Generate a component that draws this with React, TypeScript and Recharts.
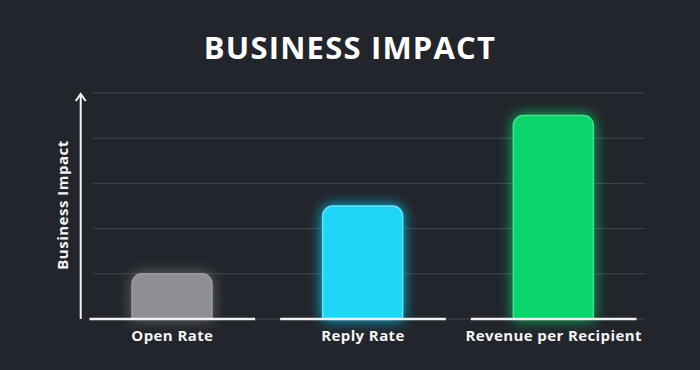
import React from 'react'
import { BarChart, Bar, XAxis, YAxis, CartesianGrid, Cell, Rectangle } from 'recharts'

const CATEGORIES = ['Open Rate', 'Reply Rate', 'Revenue per Recipient']
const IMPACT = [1.0, 2.5, 4.5]
const Y_TICKS = [1, 2, 3, 4, 5]

const FILLS = ['#8e8f93', '#1fd5f8', '#0ad56a']
const EDGES = ['#9c9da1', '#63e3ff', '#3ce38a']
const GLOWS = ['rgba(170,172,178,0.5)', 'rgba(0,210,255,0.9)', 'rgba(0,230,110,0.8)']

const BG = '#22252b'
const FONT = '"Open Sans", "DejaVu Sans", sans-serif'

const data = CATEGORIES.map((name, i) => ({ name, value: IMPACT[i] }))

function GlowBar(props: any) {
  const i = props.index ?? 0
  return (
    <g style={{ filter: `drop-shadow(0 0 7px ${GLOWS[i]})` }}>
      <Rectangle {...props} fill={FILLS[i]} stroke={EDGES[i]} strokeWidth={1.5} radius={[10, 10, 0, 0]} />
    </g>
  )
}

function BaseTick(props: any) {
  const { x, y, payload } = props
  const half = payload?.offset ? payload.offset - 12.5 : 83
  return (
    <g>
      <line x1={x - half} x2={x + half} y1={y} y2={y} stroke="#f2f2f2" strokeWidth={2.5} />
      <text x={x} y={y + 22} textAnchor="middle" fill="#f4f4f4"
        style={{ fontFamily: FONT, fontSize: 15, fontWeight: 700, letterSpacing: 0.4 }}>
        {payload.value}
      </text>
    </g>
  )
}

function NoTick() {
  return <g />
}

function AxisArrow(props: any) {
  const vb = props.viewBox || { x: 0, y: 93, width: 93, height: 226 }
  const ax = vb.x + vb.width - 12.3
  const top = vb.y + 1
  const bottom = vb.y + vb.height
  const cy = vb.y + vb.height / 2 - 1
  const lx = ax - 18.5
  return (
    <g>
      <line x1={ax} x2={ax} y1={bottom} y2={top} stroke="#f2f2f2" strokeWidth={2} />
      <polyline points={`${ax - 5},${top + 7} ${ax},${top} ${ax + 5},${top + 7}`}
        fill="none" stroke="#f2f2f2" strokeWidth={2} />
      <text x={lx} y={cy} textAnchor="middle" fill="#f4f4f4"
        transform={`rotate(-90 ${lx} ${cy})`} dominantBaseline="central"
        style={{ fontFamily: FONT, fontSize: 15, fontWeight: 700, letterSpacing: 0.5 }}>
        Business Impact
      </text>
    </g>
  )
}

export default function App() {
  return (
    <div style={{ position: 'absolute', left: 0, top: 0, width: 700, height: 370, background: BG }}>
      <div style={{
        position: 'absolute', top: 26, left: 0, width: 700, textAlign: 'center',
        fontFamily: FONT, fontWeight: 700, fontSize: 31, letterSpacing: 1.2, color: '#ffffff',
      }}>
        BUSINESS IMPACT
      </div>
      <BarChart width={700} height={370} data={data} barSize={80}
        margin={{ top: 93, right: 55, bottom: 0, left: 0 }}>
        <CartesianGrid vertical={false} stroke="#43464d" strokeWidth={1} />
        <XAxis dataKey="name" height={51} axisLine={false} tickLine={false} tickSize={0} tickMargin={0}
          padding={{ left: -16, right: -4 }} tick={<BaseTick />} interval={0} />
        <YAxis width={93} domain={[0, 5]} ticks={Y_TICKS} axisLine={false} tickLine={false} tick={<NoTick />}
          label={{ content: (p: any) => <AxisArrow {...p} /> }} />
        <Bar dataKey="value" isAnimationActive={false} shape={(p: any) => <GlowBar {...p} />}>
          {data.map((d, i) => <Cell key={d.name} fill={FILLS[i]} />)}
        </Bar>
      </BarChart>
    </div>
  )
}
